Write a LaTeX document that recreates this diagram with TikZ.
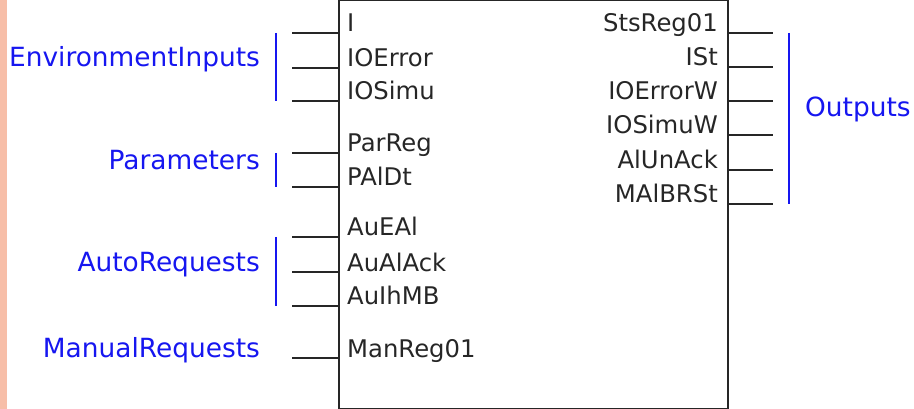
\documentclass[tikz,border=0pt]{standalone}
\usepackage{fontspec}
\setmainfont{DejaVu Sans}
\definecolor{edgebar}{RGB}{247,190,168}
\definecolor{groupblue}{RGB}{22,22,240}
\tikzset{
  fbbox/.style={draw=black!85, line width=1.5pt, minimum width=389pt, minimum height=408pt,
                inner sep=0pt, anchor=north west},
  stub/.style={draw=black!85, line width=2.6pt},
  bracket/.style={draw=groupblue, line width=2.6pt},
  portlabel/.style={inner sep=0pt, font=\fontsize{24.3}{27}\selectfont, text=black!85},
  grouplabel/.style={inner sep=0pt, font=\fontsize{26.4}{29}\selectfont, text=groupblue},
}
\begin{document}
\begin{tikzpicture}[x=1pt,y=-1pt]
\useasboundingbox (0,0) rectangle (914,409);
% strip on the left border
\fill[edgebar] (0,0) rectangle (7,409);

% function block body
\node[fbbox] (fb) at (338,0) {};

% inputs: free end, stub into the block, port name inside the block
\foreach \k/\y/\txt in {1/33/I, 2/68/IOError, 3/101/IOSimu, 4/153/ParReg, 5/187/PAlDt,
                         6/237/AuEAl, 7/272/AuAlAck, 8/306/AuIhMB, 9/358/ManReg01} {
  \coordinate (in\k) at (292,\y);
  \draw[stub] (in\k) -- (fb.west |- in\k);
  \node[portlabel, anchor=base west] (inlbl\k) at (347,\y-1) {\txt};
}

% outputs
\foreach \k/\y/\txt in {1/33/StsReg01, 2/67/ISt, 3/101/IOErrorW, 4/135/IOSimuW,
                         5/170/AlUnAck, 6/204/MAlBRSt} {
  \coordinate (out\k) at (773,\y);
  \draw[stub] (fb.east |- out\k) -- (out\k);
  \node[portlabel, anchor=base east] (outlbl\k) at (718,\y-1) {\txt};
}

% input groups
\coordinate (envtop) at (276,33);  \coordinate (envbot) at (276,101);
\coordinate (partop) at (276,153); \coordinate (parbot) at (276,187);
\coordinate (autotop) at (276,237); \coordinate (autobot) at (276,306);
\draw[bracket] (envtop) -- (envbot);
\draw[bracket] (partop) -- (parbot);
\draw[bracket] (autotop) -- (autobot);
\node[grouplabel, anchor=base east] (envlbl) at (260,67) {EnvironmentInputs};
\node[grouplabel, anchor=base east] (parlbl) at (260,170) {Parameters};
\node[grouplabel, anchor=base east] (autolbl) at (260,272) {AutoRequests};
\node[grouplabel, anchor=base east] (manlbl) at (260,357) {ManualRequests};

% output group
\coordinate (outtop) at (789,33); \coordinate (outbot) at (789,204);
\draw[bracket] (outtop) -- (outbot);
\node[grouplabel, anchor=base west] (outgrp) at (805,117) {Outputs};
\end{tikzpicture}
\end{document}
